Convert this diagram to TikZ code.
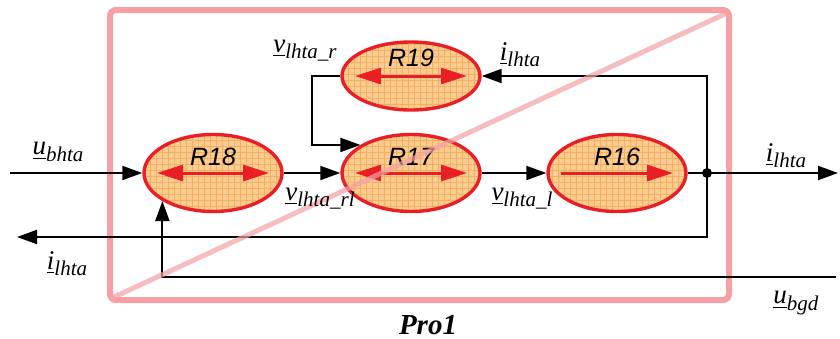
\documentclass[tikz,border=0pt]{standalone}
\usepackage{fontspec}
\setmainfont{Liberation Serif}
\setsansfont{Liberation Sans}
\usepackage{xcolor}
\usepackage{tikz}
\usetikzlibrary{positioning,arrows.meta,shapes.geometric,patterns}
\definecolor{edge}{RGB}{232,32,38}
\definecolor{body}{RGB}{250,204,145}
\definecolor{mesh}{RGB}{242,150,40}
\definecolor{frame}{RGB}{244,160,165}

\newcommand{\sig}[2]{\underline{\textit{#1}}\raisebox{-0.5ex}{\fontsize{10.5}{10.5}\selectfont\textit{#2}}}

\begin{document}
\begin{tikzpicture}[x=0.5pt,y=-0.5pt,
  blob/.style={ellipse, draw=edge, line width=1.7pt, preaction={fill=body}, pattern=grid, pattern color=mesh!75, minimum width=69pt, minimum height=38.5pt, inner sep=0pt},
  wire/.style={line width=1pt, -{Triangle[length=10pt,width=7pt]}},
  redarr/.style={edge, line width=1.5pt},
  rlab/.style={font=\sffamily\itshape\fontsize{12.5}{12.5}\selectfont, inner sep=0pt},
  lbl/.style={font=\fontsize{13.5}{13.5}\selectfont, inner sep=0pt}]
\useasboundingbox (0,0) rectangle (840,338);

% Frame
\draw[frame, line width=3pt, rounded corners=3pt] (110,10) rectangle (729,300);

% Blocks
\node[blob] (r18) at (213,173) {};
\node[blob] (r17) at (411,173) {};
\node[blob] (r16) at (617,173) {};
\node[blob, minimum height=34pt] (r19) at (411,76) {};

% Arrows inside blocks
\draw[redarr, {Triangle[length=13pt,width=8pt]}-{Triangle[length=13pt,width=8pt]}] ([xshift=-28pt]r18.center) -- ([xshift=28pt]r18.center);
\draw[redarr, {Triangle[length=13pt,width=8pt]}-{Triangle[length=13pt,width=8pt]}] ([xshift=-28pt]r17.center) -- ([xshift=28pt]r17.center);
\draw[redarr, {Triangle[length=13pt,width=8pt]}-{Triangle[length=13pt,width=8pt]}] ([xshift=-28pt]r19.center) -- ([xshift=28pt]r19.center);
\draw[redarr, -{Triangle[length=13pt,width=8pt]}] ([xshift=-28pt]r16.center) -- ([xshift=28pt]r16.center);

\node[rlab] (t18) at ([yshift=8pt]r18.center) {R18};
\node[rlab] (t17) at ([yshift=8pt]r17.center) {R17};
\node[rlab] (t16) at ([yshift=8pt]r16.center) {R16};
\node[rlab] (t19) at ([yshift=9pt]r19.center) {R19};

% Ports
\coordinate (in) at (10,173);
\coordinate (out) at (838,173);
\coordinate (back) at (17,237);
\coordinate (gnd) at (836,277);
\coordinate (jn) at (707,173);

% Connections
\draw[wire] (in) -- (r18);
\draw[wire] (r18) -- (r17);
\draw[wire] (r17) -- (r16);
\draw[wire] (r16) -- (out);
\draw[wire] (jn) |- (r19.east);
\draw[wire] (r19.west) -- ++(-28,0) |- (r17.151);
\draw[wire] (jn) |- (back);
\draw[wire] (gnd) -| (r18.209);
\fill (jn) circle (2.5pt);

% Diagonal
\draw[frame, line width=2.5pt, opacity=0.7] (112,298) -- (727,13);

% Signals
\node[lbl] (ubhta) at (58,152) {\sig{u}{bhta}};
\node[lbl] (vrl) at (320,199) {\sig{v}{lhta\_rl}};
\node[lbl] (vl) at (522,199) {\sig{v}{lhta\_l}};
\node[lbl] (vr) at (305,51) {\sig{v}{lhta\_r}};
\node[lbl] (itop) at (520,55) {\sig{i}{lhta}};
\node[lbl] (iout) at (786,156) {\sig{i}{lhta}};
\node[lbl] (iback) at (67,264) {\sig{i}{lhta}};
\node[lbl] (ubgd) at (796,303) {\sig{u}{bgd}};

% Label
\node[font=\fontsize{14.5}{14.5}\selectfont\bfseries\itshape, inner sep=0pt] (pro) at (428,325) {Pro1};
\end{tikzpicture}
\end{document}
